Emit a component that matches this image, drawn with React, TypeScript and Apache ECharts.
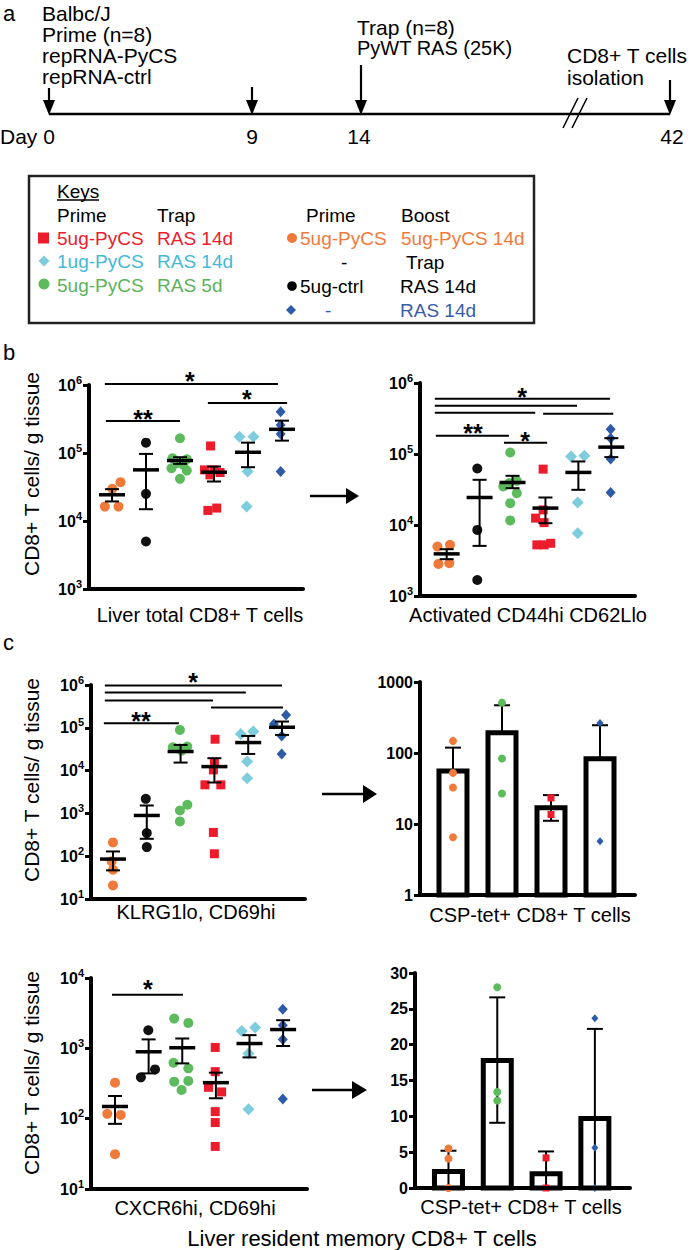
import React, { useEffect, useRef } from "react";
import * as echarts from "echarts";

const FONT = "'Liberation Sans', Arial, Helvetica, sans-serif";

// group order: orange, black, green, red, cyan, blue
const GROUP_NAMES = [
  "5ug-PyCS prime / 5ug-PyCS boost 14d",
  "5ug-ctrl / RAS 14d",
  "5ug-PyCS / RAS 5d",
  "5ug-PyCS / RAS 14d",
  "1ug-PyCS / RAS 14d",
  "- / RAS 14d",
];
const GROUP_COLORS = ["#F07A3A", "#111111", "#5DBB5E", "#EC1C2D", "#7DCDDF", "#2E5BA8"];
const GROUP_SYMBOLS = ["circle", "circle", "circle", "rect", "diamond", "diamond"];
const DOT_SIZES: any[] = [10, 10, 10, 9, [12, 12], [10, 11]];
const BAR_GROUPS = [0, 2, 3, 5];
const BAR_DOT_SIZES: any[] = [8, 8, 8, 7, [8, 8], [7, 8]];

// ---------- b: Liver total CD8+ T cells ----------
const liverTotalPoints = [
  [[0.25, 37200], [0.01, 29700], [-0.21, 16300], [0.19, 16300]],
  [[1.0, 142000], [1.0, 25100], [1.0, 5000]],
  [[2.0, 164800], [1.78, 83800], [2.2, 81000], [1.9, 70800], [2.1, 66900], [1.75, 59700], [2.2, 55200], [2.0, 41700]],
  [[2.9, 127000], [2.72, 56500], [3.0, 56500], [3.18, 51600], [2.88, 47700], [2.82, 14300], [3.08, 15500]],
  [[3.75, 174000], [4.16, 174000], [3.99, 53400], [3.96, 16300]],
  [[4.96, 405000], [4.96, 259000], [4.96, 190500], [4.96, 53400]],
];
const liverTotalMean = [24300, 56500, 77500, 52200, 102500, 223000];
const liverTotalSemLo = [19400, 14900, 69200, 38100, 61800, 152000];
const liverTotalSemHi = [29400, 97000, 86700, 63200, 142000, 299000];
const liverTotalSig = [[-0.21, 4.88, 1035000], [2.82, 5.15, 543000], [-0.18, 2.0, 295000]];
const liverTotalStars: [number, number, string][] = [[2.29, 1400000, "*"], [3.97, 762000, "*"], [0.91, 387000, "**"]];

// ---------- b: Activated CD44hi CD62Llo ----------
const activatedPoints = [
  [[-0.28, 4970], [0.1, 5250], [-0.25, 2830], [0.08, 2890]],
  [[0.93, 62500], [0.93, 8530], [0.93, 1680]],
  [[1.93, 105000], [2.13, 41900], [1.72, 34900], [1.9, 38900], [2.13, 28100], [1.93, 20300], [1.93, 11600]],
  [[2.93, 61200], [2.93, 16300], [2.7, 12500], [2.96, 10800], [2.74, 5250], [3.16, 5530], [2.96, 5250]],
  [[3.78, 92500], [4.18, 94400], [3.98, 20700], [3.98, 7660]],
  [[4.98, 224000], [4.98, 167000], [4.98, 84700], [4.98, 28700]],
];
const activatedMean = [3920, 24400, 39700, 17300, 55000, 125000];
const activatedSemLo = [3300, 5080, 33000, 10600, 31300, 90400];
const activatedSemHi = [4560, 43300, 49300, 24400, 78500, 167000];
const activatedSig = [
  [-0.36, 4.96, 601000], [-0.36, 3.96, 479000], [-0.36, 2.69, 381000],
  [2.93, 5.06, 369000], [-0.33, 1.89, 181000], [1.74, 3.05, 144000],
];
const activatedStars: [number, number, string][] = [[2.29, 778000, "*"], [0.8, 242000, "**"], [2.38, 187000, "*"]];

// ---------- c: KLRG1lo, CD69hi ----------
const klrgPoints = [
  [[0, 210], [-0.04, 75.7], [0, 48.3], [0, 20.8]],
  [[0.97, 2190], [1.0, 347], [1.0, 163]],
  [[1.98, 89100], [1.77, 35200], [2.2, 36400], [1.98, 32700], [2.03, 29400], [2.2, 1590], [1.98, 1170], [1.98, 649]],
  [[3.02, 54100], [3.0, 14900], [2.97, 10400], [2.72, 4650], [3.19, 4650], [2.97, 359], [3.0, 114]],
  [[3.78, 71900], [4.15, 81500], [3.97, 16300], [3.97, 6650]],
  [[5.12, 200000], [4.76, 123000], [4.99, 64600], [4.99, 24500]],
];
const klrgMean = [85.7, 895, 27900, 12400, 45200, 103000];
const klrgSemLo = [46.7, 255, 15400, 5270, 24500, 68200];
const klrgSemHi = [129, 1530, 39800, 19500, 64600, 140000];
const klrgSig = [
  [-0.24, 5.0, 973000], [-0.24, 3.93, 668000], [-0.24, 2.96, 436000],
  [2.9, 5.03, 299000], [-0.27, 1.95, 127000],
];
const klrgStars: [number, number, string][] = [[2.37, 1660000, "*"], [0.83, 195000, "**"]];

// ---------- c: CSP-tet+ (log) ----------
const cspLogMean = [56, 193, 17, 83];
const cspLogErrHi = [119, 470, 25.5, 246];
const cspLogErrLo: (number | null)[] = [null, null, 11.1, null];
const cspLogPoints = [
  [[0, 148], [0, 52.5], [0, 32.6], [0, 6.5]],
  [[1, 512], [1, 83.6], [1, 26.9]],
  [[2, 23.3], [2, 13.6]],
  [[3, 265], [3, 5.7]],
];

// ---------- c: CXCR6hi, CD69hi ----------
const cxcrPoints = [
  [[0, 325], [-0.23, 117], [0.17, 113], [0, 31.3]],
  [[0.99, 1810], [0.77, 387], [1.19, 502]],
  [[1.76, 2650], [2.18, 2300], [1.74, 624], [2.18, 519], [1.76, 336], [2.18, 344], [1.98, 256]],
  [[2.98, 1030], [2.98, 466], [2.78, 279], [3.17, 240], [2.98, 126], [2.98, 88.1], [2.98, 40.3]],
  [[3.77, 1770], [4.17, 1980], [3.97, 847], [3.97, 136]],
  [[4.99, 3600], [4.99, 2130], [4.99, 1340], [4.99, 191]],
];
const cxcrMean = [149, 893, 1020, 325, 1170, 1850];
const cxcrSemLo = [84.4, 440, 611, 195, 743, 1080];
const cxcrSemHi = [210, 1340, 1380, 451, 1540, 2510];
const cxcrSig = [[-0.09, 2.02, 5780]];
const cxcrStars: [number, number, string][] = [[0.98, 8550, "*"]];

// ---------- c: CSP-tet+ (linear) ----------
const cspLinMean = [2.3, 17.8, 2.0, 9.7];
const cspLinErrHi = [5.2, 26.6, 5.1, 22.2];
const cspLinErrLo: (number | null)[] = [0, 9.1, 0, 0];
const cspLinPoints = [
  [[0, 5.5], [0, 4.1], [0, 0]],
  [[1, 28.0], [1, 13.4], [1, 12.2]],
  [[2, 4.2], [2, 0]],
  [[3, 23.7], [3, 5.6], [3, 0]],
];

// ---------- panel a timeline ----------
const timelineDays = ["0", "9", "14", "42"];

function meanSemRender(params: any, api: any) {
  const x = api.value(0), m = api.value(1), lo = api.value(2), hi = api.value(3);
  const pm = api.coord([x, m]);
  const pl = api.coord([x, lo]);
  const ph = api.coord([x, hi]);
  const st = { stroke: "#000", lineWidth: 2 };
  return {
    type: "group",
    children: [
      { type: "line", shape: { x1: pm[0] - 13, y1: pm[1], x2: pm[0] + 13, y2: pm[1] }, style: { stroke: "#000", lineWidth: 3.5 } },
      { type: "line", shape: { x1: pm[0], y1: pl[1], x2: pm[0], y2: ph[1] }, style: st },
      { type: "line", shape: { x1: pm[0] - 7, y1: pl[1], x2: pm[0] + 7, y2: pl[1] }, style: st },
      { type: "line", shape: { x1: pm[0] - 7, y1: ph[1], x2: pm[0] + 7, y2: ph[1] }, style: st },
    ],
  };
}

function sigRender(params: any, api: any) {
  const a = api.coord([api.value(0), api.value(2)]);
  const b = api.coord([api.value(1), api.value(2)]);
  return { type: "line", shape: { x1: a[0], y1: a[1], x2: b[0], y2: b[1] }, style: { stroke: "#000", lineWidth: 2 } };
}

function starRender(stars: [number, number, string][]) {
  return (params: any, api: any) => {
    const p = api.coord([api.value(0), api.value(1)]);
    const text = stars[params.dataIndex][2];
    return {
      type: "text",
      x: p[0],
      y: p[1] + 6,
      style: {
        text, fill: "#000", fontSize: 25, fontWeight: "bold", fontFamily: FONT,
        align: "center", verticalAlign: "middle", textAlign: "center", textVerticalAlign: "middle",
      },
    };
  };
}

function barRender(base: number) {
  return (params: any, api: any) => {
    const x = api.value(0), v = api.value(1);
    const top = api.coord([x, v]);
    const bot = api.coord([x, base]);
    return {
      type: "rect",
      shape: { x: top[0] - 14, y: top[1], width: 28, height: bot[1] - top[1] },
      style: { fill: "#fff", stroke: "#000", lineWidth: 5 },
    };
  };
}

function barErrRender(lows: (number | null)[]) {
  return (params: any, api: any) => {
    const x = api.value(0), m = api.value(1), hi = api.value(2);
    const pm = api.coord([x, m]);
    const ph = api.coord([x, hi]);
    const st = { stroke: "#000", lineWidth: 2 };
    const children: any[] = [
      { type: "line", shape: { x1: pm[0], y1: pm[1], x2: pm[0], y2: ph[1] }, style: st },
      { type: "line", shape: { x1: pm[0] - 8, y1: ph[1], x2: pm[0] + 8, y2: ph[1] }, style: st },
    ];
    const lo = lows[params.dataIndex];
    if (lo !== null && lo !== undefined) {
      const pl = api.coord([x, lo]);
      children.push({ type: "line", shape: { x1: pm[0], y1: pm[1], x2: pm[0], y2: pl[1] }, style: st });
      children.push({ type: "line", shape: { x1: pm[0] - 8, y1: pl[1], x2: pm[0] + 8, y2: pl[1] }, style: st });
    }
    return { type: "group", children };
  };
}

const logLabel = {
  formatter: (v: number) => `{b|10}{s|${Math.round(Math.log10(v))}}`,
  margin: 7,
  rich: {
    b: { fontSize: 16, fontWeight: "bold", fontFamily: FONT, color: "#000", lineHeight: 22 },
    s: { fontSize: 11, fontWeight: "bold", fontFamily: FONT, color: "#000", lineHeight: 12, verticalAlign: "top" },
  },
};

function T(text: string, x: number, y: number, o: any = {}) {
  const align = o.align || "left";
  return {
    type: "text",
    x, y,
    rotation: o.rotation || 0,
    silent: true,
    style: {
      text,
      fill: o.color || "#000",
      fontSize: o.size || 21,
      fontWeight: o.weight || "normal",
      fontFamily: FONT,
      align, textAlign: align,
      verticalAlign: "middle", textVerticalAlign: "middle",
    },
  };
}
function L(x1: number, y1: number, x2: number, y2: number, w = 2, color = "#000") {
  return { type: "line", silent: true, shape: { x1, y1, x2, y2 }, style: { stroke: color, lineWidth: w } };
}
function P(points: number[][], color = "#000") {
  return { type: "polygon", silent: true, shape: { points }, style: { fill: color } };
}
function diamond(cx: number, cy: number, r: number, color: string) {
  return P([[cx, cy - r], [cx + r, cy], [cx, cy + r], [cx - r, cy]], color);
}

function buildOption() {
  const grids = [
    { left: 89, top: 385, width: 214, height: 204 },
    { left: 420, top: 383, width: 215, height: 213 },
    { left: 91, top: 685, width: 214, height: 214 },
    { left: 420, top: 682, width: 215, height: 213 },
    { left: 91, top: 978, width: 216, height: 211 },
    { left: 415, top: 973, width: 215, height: 215 },
  ];
  const xRanges = [[-0.676, 5.618], [-0.81, 5.72], [-0.65, 5.68], [-0.673, 3.714], [-0.714, 5.71], [-0.686, 3.72]];
  const axisLine = { show: true, onZero: false, lineStyle: { color: "#000", width: 4 } };
  const xAxis = xRanges.map((r, i) => ({
    type: "value", gridIndex: i, min: r[0], max: r[1], z: 10,
    axisLine, axisTick: { show: false }, axisLabel: { show: false }, splitLine: { show: false },
  }));
  const yCommon = {
    z: 10,
    axisLine,
    axisTick: { show: true, length: 6, lineStyle: { color: "#000", width: 3 } },
    splitLine: { show: false },
  };
  const plainLabel = { fontSize: 16, fontWeight: "bold", fontFamily: FONT, color: "#000", margin: 7 };
  const yAxis = [
    { ...yCommon, type: "log", logBase: 10, gridIndex: 0, min: 1e3, max: 1e6, axisLabel: logLabel },
    { ...yCommon, type: "log", logBase: 10, gridIndex: 1, min: 1e3, max: 1e6, axisLabel: logLabel },
    { ...yCommon, type: "log", logBase: 10, gridIndex: 2, min: 10, max: 1e6, axisLabel: logLabel },
    { ...yCommon, type: "log", logBase: 10, gridIndex: 3, min: 1, max: 1000, axisLabel: { ...plainLabel, formatter: (v: number) => String(Math.round(v)) } },
    { ...yCommon, type: "log", logBase: 10, gridIndex: 4, min: 10, max: 1e4, axisLabel: logLabel },
    { ...yCommon, type: "value", gridIndex: 5, min: 0, max: 30, interval: 5, axisLabel: plainLabel },
  ];

  const series: any[] = [];
  const addScatterPanel = (g: number, points: number[][][], mean: number[], lo: number[], hi: number[], sig: number[][], stars: [number, number, string][]) => {
    points.forEach((pts, k) => {
      series.push({
        type: "scatter", name: GROUP_NAMES[k], xAxisIndex: g, yAxisIndex: g, data: pts,
        symbol: GROUP_SYMBOLS[k], symbolSize: DOT_SIZES[k], itemStyle: { color: GROUP_COLORS[k], opacity: 1 }, z: 2, silent: true,
      });
    });
    series.push({ type: "custom", xAxisIndex: g, yAxisIndex: g, z: 3, silent: true, data: mean.map((m, i) => [i, m, lo[i], hi[i]]), renderItem: meanSemRender });
    series.push({ type: "custom", xAxisIndex: g, yAxisIndex: g, z: 3, silent: true, data: sig, renderItem: sigRender });
    series.push({ type: "custom", xAxisIndex: g, yAxisIndex: g, z: 3, silent: true, data: stars.map((s) => [s[0], s[1]]), renderItem: starRender(stars) });
  };
  const addBarPanel = (g: number, mean: number[], errHi: number[], errLo: (number | null)[], points: number[][][], base: number) => {
    series.push({ type: "custom", xAxisIndex: g, yAxisIndex: g, z: 1, silent: true, data: mean.map((m, i) => [i, m]), renderItem: barRender(base) });
    series.push({ type: "custom", xAxisIndex: g, yAxisIndex: g, z: 2, silent: true, data: mean.map((m, i) => [i, m, errHi[i]]), renderItem: barErrRender(errLo) });
    points.forEach((pts, j) => {
      const k = BAR_GROUPS[j];
      series.push({
        type: "scatter", name: GROUP_NAMES[k], xAxisIndex: g, yAxisIndex: g, data: pts,
        symbol: GROUP_SYMBOLS[k], symbolSize: BAR_DOT_SIZES[k], itemStyle: { color: GROUP_COLORS[k], opacity: 1 }, z: 3, silent: true,
      });
    });
  };

  addScatterPanel(0, liverTotalPoints, liverTotalMean, liverTotalSemLo, liverTotalSemHi, liverTotalSig, liverTotalStars);
  addScatterPanel(1, activatedPoints, activatedMean, activatedSemLo, activatedSemHi, activatedSig, activatedStars);
  addScatterPanel(2, klrgPoints, klrgMean, klrgSemLo, klrgSemHi, klrgSig, klrgStars);
  addBarPanel(3, cspLogMean, cspLogErrHi, cspLogErrLo, cspLogPoints, 1);
  addScatterPanel(4, cxcrPoints, cxcrMean, cxcrSemLo, cxcrSemHi, cxcrSig, cxcrStars);
  addBarPanel(5, cspLinMean, cspLinErrHi, cspLinErrLo, cspLinPoints, 0);

  // ---------- graphic: panel a, keys, labels, arrows ----------
  const g: any[] = [];
  g.push(T("a", 3, 13, { size: 22 }));
  g.push(T("Balbc/J", 42, 13));
  g.push(T("Prime (n=8)", 42, 34));
  g.push(T("repRNA-PyCS", 42, 55));
  g.push(T("repRNA-ctrl", 42, 76));
  g.push(T("Trap (n=8)", 357, 27));
  g.push(T("PyWT RAS (25K)", 357, 48, { size: 20 }));
  g.push(T("CD8+ T cells", 567, 55));
  g.push(T("isolation", 567, 77));
  g.push(L(49, 114, 670, 114, 2.5));
  const arrowX = [49, 252, 361, 670];
  const arrowTop = [88, 87, 65, 80];
  arrowX.forEach((x, i) => {
    g.push(L(x, arrowTop[i], x, 104, 2.2));
    g.push(P([[x - 6, 100], [x + 6, 100], [x, 115]]));
  });
  g.push(L(563, 128, 578, 98, 1.5));
  g.push(L(572, 128, 587, 98, 1.5));
  g.push(T("Day " + timelineDays[0], 0, 136));
  g.push(T(timelineDays[1], 252, 136, { align: "center" }));
  g.push(T(timelineDays[2], 359, 136, { align: "center" }));
  g.push(T(timelineDays[3], 672, 136, { align: "center" }));

  // keys box
  g.push({ type: "rect", silent: true, shape: { x: 29, y: 176, width: 505, height: 147 }, style: { fill: "none", stroke: "#222", lineWidth: 2.5 } });
  const KS = 19;
  g.push(T("Keys", 57, 191, { size: KS }));
  g.push(L(57, 200, 99, 200, 1.3));
  g.push(T("Prime", 57, 215, { size: KS }));
  g.push(T("Trap", 157, 215, { size: KS }));
  g.push({ type: "rect", silent: true, shape: { x: 38, y: 232.5, width: 11, height: 11 }, style: { fill: GROUP_COLORS[3] } });
  g.push(T("5ug-PyCS", 57, 238, { size: KS, color: "#EC1C2D" }));
  g.push(T("RAS 14d", 157, 238, { size: KS, color: "#EC1C2D" }));
  g.push(diamond(44, 261, 5.5, GROUP_COLORS[4]));
  g.push(T("1ug-PyCS", 57, 261, { size: KS, color: "#45B9D6" }));
  g.push(T("RAS 14d", 157, 261, { size: KS, color: "#45B9D6" }));
  g.push({ type: "circle", silent: true, shape: { cx: 44, cy: 284, r: 5.5 }, style: { fill: GROUP_COLORS[2] } });
  g.push(T("5ug-PyCS", 57, 285, { size: KS, color: "#5CB35A" }));
  g.push(T("RAS 5d", 157, 285, { size: KS, color: "#5CB35A" }));
  g.push(T("Prime", 306, 215, { size: KS }));
  g.push(T("Boost", 401, 215, { size: KS }));
  g.push({ type: "circle", silent: true, shape: { cx: 292, cy: 238, r: 5 }, style: { fill: GROUP_COLORS[0] } });
  g.push(T("5ug-PyCS", 300, 238, { size: KS, color: "#F07A3A" }));
  g.push(T("5ug-PyCS 14d", 401, 238, { size: KS, color: "#F07A3A" }));
  g.push(T("-", 341, 262, { size: KS }));
  g.push(T("Trap", 406, 262, { size: KS }));
  g.push({ type: "circle", silent: true, shape: { cx: 292, cy: 286, r: 4.8 }, style: { fill: "#000" } });
  g.push(T("5ug-ctrl", 300, 286, { size: KS }));
  g.push(T("RAS 14d", 400, 286, { size: KS }));
  g.push(diamond(291, 310, 5, GROUP_COLORS[5]));
  g.push(T("-", 325, 310, { size: KS, color: "#3A5DA8" }));
  g.push(T("RAS 14d", 400, 310, { size: KS, color: "#3A5DA8" }));

  // panel letters
  g.push(T("b", 3, 352, { size: 22 }));
  g.push(T("c", 3, 642, { size: 22 }));

  // y titles
  g.push(T("CD8+ T cells/ g tissue", 31, 474, { align: "center", rotation: Math.PI / 2 }));
  g.push(T("CD8+ T cells/ g tissue", 31, 780, { align: "center", rotation: Math.PI / 2 }));
  g.push(T("CD8+ T cells/ g tissue", 31, 1073, { align: "center", rotation: Math.PI / 2 }));

  // x titles
  g.push(T("Liver total CD8+ T cells", 200, 615, { align: "center", size: 20 }));
  g.push(T("Activated CD44hi CD62Llo", 528, 615, { align: "center", size: 20 }));
  g.push(T("KLRG1lo, CD69hi", 196, 912, { align: "center", size: 20 }));
  g.push(T("CSP-tet+ CD8+ T cells", 530, 915, { align: "center", size: 20 }));
  g.push(T("CXCR6hi, CD69hi", 195, 1208, { align: "center", size: 20 }));
  g.push(T("CSP-tet+ CD8+ T cells", 521, 1207, { align: "center", size: 20 }));
  g.push(T("Liver resident memory CD8+ T cells", 362, 1238, { align: "center", size: 22 }));

  // arrows between panels
  g.push(L(310, 496, 350, 496, 2.5));
  g.push(P([[346, 488], [359, 496], [346, 504]]));
  g.push(L(322, 794, 366, 794, 2.5));
  g.push(P([[363, 785], [377, 794], [363, 803]]));
  g.push(L(312, 1090, 355, 1090, 2.5));
  g.push(P([[352, 1081], [367, 1090], [352, 1099]]));

  return {
    animation: false,
    backgroundColor: "#fff",
    textStyle: { fontFamily: FONT },
    grid: grids,
    xAxis,
    yAxis,
    series,
    graphic: { elements: g },
  };
}

export default function App() {
  const ref = useRef<HTMLDivElement>(null);
  useEffect(() => {
    if (!ref.current) return;
    const chart = echarts.init(ref.current, null, { renderer: "svg" });
    chart.setOption(buildOption() as any);
    return () => chart.dispose();
  }, []);
  return <div ref={ref} style={{ position: "absolute", left: 0, top: 0, width: 693, height: 1250 }} />;
}
